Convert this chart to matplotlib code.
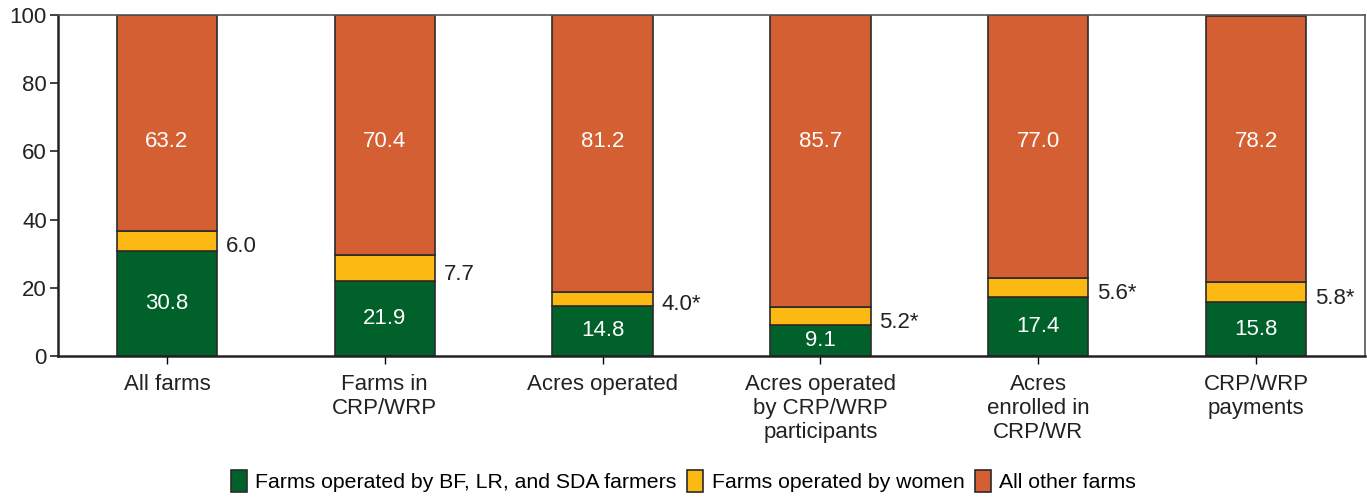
import matplotlib
matplotlib.use('Agg')
import matplotlib.pyplot as plt
import numpy as np

categories = ['All farms', 'Farms in\nCRP/WRP', 'Acres operated',
              'Acres operated\nby CRP/WRP\nparticipants', 'Acres\nenrolled in\nCRP/WR',
              'CRP/WRP\npayments']
bf_lr_sda = [30.8, 21.9, 14.8, 9.1, 17.4, 15.8]
women = [6.0, 7.7, 4.0, 5.2, 5.6, 5.8]
other = [63.2, 70.4, 81.2, 85.7, 77.0, 78.2]
women_labels = ['6.0', '7.7', '4.0*', '5.2*', '5.6*', '5.8*']

green = '#00612a'
yellow = '#fdb913'
orange = '#d45f32'
edge = '#2b2b2b'
txt = '#222222'
fs = 16

plt.rcParams['font.family'] = ['Liberation Sans', 'DejaVu Sans']

fig = plt.figure(figsize=(13.67, 4.97), dpi=100)
ax = fig.add_axes([58 / 1367, 1 - 356 / 497, 1307 / 1367, 341 / 497])

x = np.arange(len(categories))
w = 0.46
g = np.array(bf_lr_sda)
y = np.array(women)
o = np.array(other)

ax.bar(x, g, w, color=green, edgecolor=edge, linewidth=1.2,
       label='Farms operated by BF, LR, and SDA farmers')
ax.bar(x, y, w, bottom=g, color=yellow, edgecolor=edge, linewidth=1.2,
       label='Farms operated by women')
ax.bar(x, o, w, bottom=g + y, color=orange, edgecolor=edge, linewidth=1.2,
       label='All other farms')

for i in range(len(x)):
    ax.text(x[i], g[i] / 2, '%.1f' % g[i], ha='center', va='center',
            color='white', fontsize=fs)
    ax.text(x[i], 63, '%.1f' % o[i], ha='center', va='center',
            color='white', fontsize=fs)
    ax.text(x[i] + w / 2 + 0.04, g[i] + y[i] / 2 - 1.8, women_labels[i],
            ha='left', va='center', color=txt, fontsize=fs)

ax.set_xlim(-0.5, len(x) - 0.5)
ax.set_ylim(0, 100)
ax.set_yticks([0, 20, 40, 60, 80, 100])
ax.set_xticks(x)
ax.set_xticklabels(categories, fontsize=fs, color=txt, linespacing=1.2)
ax.tick_params(axis='y', labelsize=fs, colors=txt, length=6, width=1.2, pad=2)
ax.tick_params(axis='x', length=6, width=1, pad=7)

for side in ['left', 'bottom']:
    ax.spines[side].set_linewidth(1.8)
    ax.spines[side].set_color(txt)
for side in ['top', 'right']:
    ax.spines[side].set_linewidth(1.2)
    ax.spines[side].set_color('#555555')

handles, labels = ax.get_legend_handles_labels()
leg = fig.legend(handles, labels, loc='lower center', ncol=3,
                 bbox_to_anchor=(0.5, -0.028), frameon=False, fontsize=15.3,
                 handlelength=0.75, handleheight=1.2, handletextpad=0.4,
                 columnspacing=0.5)

fig.savefig('out.png', dpi=100)
plt.close(fig)
